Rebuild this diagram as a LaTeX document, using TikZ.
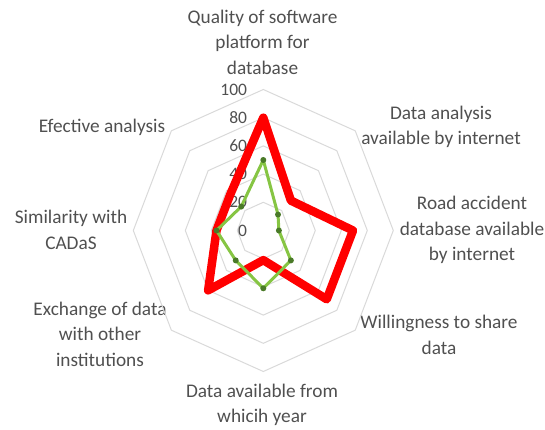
\documentclass[tikz,border=0pt]{standalone}
\usepackage{fontspec}
\setmainfont{Carlito}
\usetikzlibrary{positioning}
\definecolor{gridgray}{HTML}{D9D9D9}
\definecolor{textgray}{HTML}{505050}
\definecolor{seriesred}{HTML}{FF0000}
\definecolor{seriesgreen}{HTML}{86C543}
\definecolor{markgreen}{HTML}{4A7A28}

\begin{document}
\begin{tikzpicture}[
        x=1pt, y=1pt,
        ring/.style={draw=gridgray, line width=1pt},
        ticklbl/.style={text=textgray, font=\fontsize{17.5}{17.5}\selectfont, anchor=east, inner sep=0pt, xshift=-16pt},
        axislbl/.style={text=textgray, font=\fontsize{19.3}{25.5}\selectfont, align=center, inner sep=0pt},
        redline/.style={draw=seriesred, line width=8.5pt, line join=round},
        greenline/.style={draw=seriesgreen, line width=3pt, line join=round},
        dot/.style={circle, fill=markgreen, minimum size=6pt, inner sep=0pt}
      ]
      \useasboundingbox (0,-430) rectangle (545,0);
      % axis titles
      \node[axislbl] (q) at (262.5,-42) {Quality of software\\platform for\\database};
      \node[axislbl] (da) at (441,-127) {Data analysis\\available by internet};
      \node[axislbl] (rd) at (472,-230) {Road accident\\database available\\by internet};
      \node[axislbl] (ws) at (439,-335) {Willingness to share\\data};
      \node[axislbl] (dy) at (262,-405) {Data available from\\whicih year};
      \node[axislbl] (ex) at (100,-334) {Exchange of data\\with other\\institutions};
      \node[axislbl] (sc) at (71,-230) {Similarity with\\CADaS};
      \node[axislbl] (ea) at (102,-127) {Efective analysis};
      \begin{scope}[shift={(263.3,-230.5)}, x=1.30pt, y=1.41pt]
        % grid octagons
        \foreach\r in {20,40,...,100}{
          \draw[ring] (90:\r) \foreach\a in {45,0,...,-225}{ -- (\a:\r)} -- cycle;
        }
        \foreach\v in {0,20,...,100}{\node[ticklbl] (t\v) at (90:\v) {\v};}
        % series
        \foreach\v [count=\k] in {80,30,69,69,21,60,36,36}{\coordinate (r\k) at ({135-45*\k}:\v);}
        \foreach\v [count=\k] in {50,16,12,30,41,30,36,24}{\coordinate (g\k) at ({135-45*\k}:\v);}
        \draw[redline] (r1) \foreach\k in {2,...,8}{ -- (r\k)} -- cycle;
        \draw[greenline] (g1) \foreach\k in {2,...,8}{ -- (g\k)} -- cycle;
        \foreach\k in {1,...,8}{\node[dot] (m\k) at (g\k) {};}
      \end{scope}
    \end{tikzpicture}
\end{document}
